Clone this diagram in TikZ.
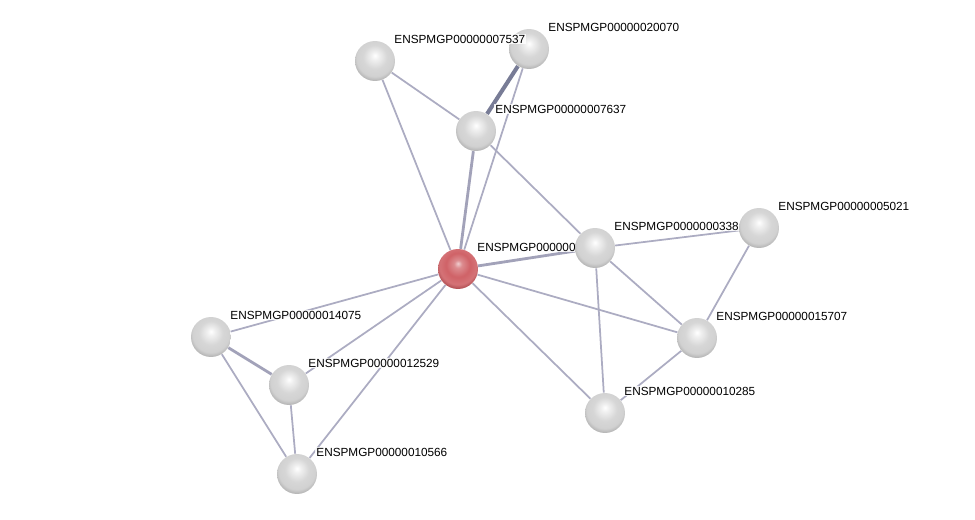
\documentclass[tikz,border=0pt]{standalone}
\usepackage{fontspec}
\setmainfont{Liberation Sans}
\usetikzlibrary{calc}
\pgfdeclarelayer{edges}
\pgfsetlayers{edges,main}
\definecolor{edgegray}{RGB}{172,172,194}
\definecolor{edgedark}{RGB}{120,124,150}
\definecolor{ballred}{RGB}{205,90,95}
\pgfdeclareradialshading{grayball}{\pgfpoint{0bp}{7bp}}{%
  color(0bp)=(white); color(5bp)=(white!94!black); color(15bp)=(white!84!black);
  color(23bp)=(white!82!black); color(28bp)=(white!70!black); color(32bp)=(white!45!black);
  color(50bp)=(white!45!black)}
\pgfdeclareradialshading{redball}{\pgfpoint{0bp}{7bp}}{%
  color(0bp)=(ballred!30!white); color(5bp)=(ballred!70!white); color(15bp)=(ballred!95!white);
  color(23bp)=(ballred!85!white); color(28bp)=(ballred!85!black); color(32bp)=(ballred!55!black);
  color(50bp)=(ballred!55!black)}

\begin{document}
\begin{tikzpicture}[x=0.02cm, y=-0.02cm,
    prot/.style = {circle, minimum size=0.8cm, inner sep=0pt, shading=grayball},
    query/.style = {prot, shading=redball},
    lbl/.style = {anchor=west, font=\fontsize{6.7}{8}\selectfont, fill=white,
                  fill opacity=0.85, text opacity=1, inner sep=0.6pt},
    link/.style = {draw=edgegray, line width=1pt},
    mid/.style = {draw=edgegray!80!edgedark, line width=1.6pt},
    strong/.style = {draw=edgedark, line width=2.3pt}]
\useasboundingbox (0,0) rectangle (975,520);
% proteins, each with its name
\node[prot] (p20070) at (529,49) {};
\node[lbl] (l20070) at ($(p20070)+(18,-22)$) {ENSPMGP00000020070};
\node[prot] (p7537) at (375,61) {};
\node[lbl] (l7537) at ($(p7537)+(18,-22)$) {ENSPMGP00000007537};
\node[prot] (p7637) at (476,131) {};
\node[lbl] (l7637) at ($(p7637)+(18,-22)$) {ENSPMGP00000007637};
\node[query] (q) at (458,269) {};
\node[lbl] (lq) at ($(q)+(18,-22)$) {ENSPMGP000000};
\node[prot] (p338) at (595,248) {};
\node[lbl] (l338) at ($(p338)+(18,-22)$) {ENSPMGP0000000338};
\node[prot] (p5021) at (759,228) {};
\node[lbl] (l5021) at ($(p5021)+(18,-22)$) {ENSPMGP00000005021};
\node[prot] (p15707) at (697,338) {};
\node[lbl] (l15707) at ($(p15707)+(18,-22)$) {ENSPMGP00000015707};
\node[prot] (p10285) at (605,413) {};
\node[lbl] (l10285) at ($(p10285)+(18,-22)$) {ENSPMGP00000010285};
\node[prot] (p14075) at (211,337) {};
\node[lbl] (l14075) at ($(p14075)+(18,-22)$) {ENSPMGP00000014075};
\node[prot] (p12529) at (289,385) {};
\node[lbl] (l12529) at ($(p12529)+(18,-22)$) {ENSPMGP00000012529};
\node[prot] (p10566) at (297,474) {};
\node[lbl] (l10566) at ($(p10566)+(18,-22)$) {ENSPMGP00000010566};
% interactions
\begin{pgfonlayer}{edges}
\foreach \a/\b in {p7537/p7637, p7537/q, p20070/q, p7637/p338, p338/p5021,
    p338/p15707, p338/p10285, p5021/p15707, q/p15707, q/p10285,
    p15707/p10285, q/p14075, q/p12529, q/p10566, p14075/p10566, p12529/p10566}
  \draw[link] (\a) -- (\b);
\foreach \a/\b in {p7637/q, q/p338, p14075/p12529}
  \draw[mid] (\a) -- (\b);
\draw[strong] (p20070) -- (p7637);
\end{pgfonlayer}
\end{tikzpicture}
\end{document}
